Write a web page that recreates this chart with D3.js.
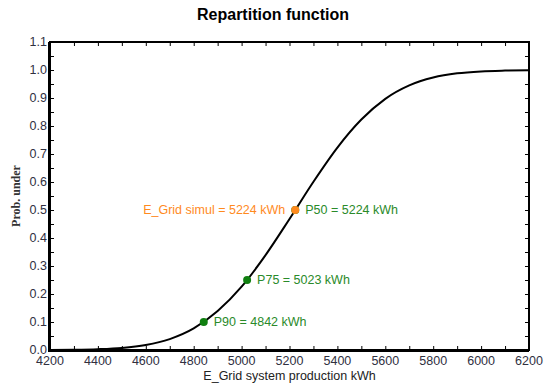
<!DOCTYPE html>
<html>
<head>
<meta charset="utf-8">
<script src="https://cdn.jsdelivr.net/npm/d3@7"></script>
<style>
  body { margin: 0; background: #fff; }
  svg { display: block; font-family: "Liberation Sans", Arial, sans-serif; }
</style>
</head>
<body>
<div id="wrapper"></div>
<script>
// data
const production = [4200, 4300, 4400, 4500, 4600, 4700, 4800, 4900, 5000, 5100, 5200, 5300, 5400, 5500, 5600, 5700, 5800, 5900, 6000, 6100, 6200]
const probUnder  = [0.0003, 0.001, 0.003, 0.0075, 0.018, 0.039, 0.077, 0.139, 0.226, 0.339, 0.468, 0.601, 0.723, 0.823, 0.897, 0.945, 0.973, 0.988, 0.995, 0.998, 0.9995]

const pLabels = ["P90", "P75", "P50"]
const pValues = [4842, 5023, 5224]
const pProbs  = [0.1, 0.25, 0.5]

const simulLabel = "E_Grid simul"
const simulValue = 5224
const simulProb  = 0.5

const xTicks = [4200, 4400, 4600, 4800, 5000, 5200, 5400, 5600, 5800, 6000, 6200]
const yTicks = [0, 0.1, 0.2, 0.3, 0.4, 0.5, 0.6, 0.7, 0.8, 0.9, 1.0, 1.1]

// dimensions
const dimensions = {
  width: 544,
  height: 386,
  margin: { top: 42, right: 15, bottom: 36, left: 50 },
}
dimensions.boundWidth = dimensions.width - dimensions.margin.left - dimensions.margin.right
dimensions.boundHeight = dimensions.height - dimensions.margin.top - dimensions.margin.bottom

const wrapper = d3.select("#wrapper")
  .append("svg")
    .attr("width", dimensions.width)
    .attr("height", dimensions.height)

const bounds = wrapper.append("g")
  .attr("transform", `translate(${dimensions.margin.left}, ${dimensions.margin.top})`)

// scales
const xScale = d3.scaleLinear()
  .domain([4200, 6200])
  .range([0, dimensions.boundWidth])

const yScale = d3.scaleLinear()
  .domain([0, 1.1])
  .range([dimensions.boundHeight, 0])

const labelColor = "#30303f"
const green = "#0f7f0f"
const greenText = "#2a8a2a"
const orange = "#ff8a1e"

// curve
const line = d3.line()
  .x(d => xScale(d[0]))
  .y(d => yScale(d[1]))
  .curve(d3.curveMonotoneX)

bounds.append("path")
  .datum(production.map((p, i) => [p, probUnder[i]]))
  .attr("d", line)
  .attr("fill", "none")
  .attr("stroke", "#000")
  .attr("stroke-width", 2)

// axes: ticks inward, no labels on top/right
const tickStyle = g => {
  g.select(".domain").remove()
  g.selectAll("line").attr("stroke", "#000")
}

bounds.append("g")
  .attr("transform", `translate(0, ${dimensions.boundHeight})`)
  .call(d3.axisBottom(xScale).tickValues(d3.range(4200, 6201, 100)).tickSize(-4).tickFormat(""))
  .call(tickStyle)

bounds.append("g")
  .call(d3.axisTop(xScale).tickValues(d3.range(4200, 6201, 100)).tickSize(-4).tickFormat(""))
  .call(tickStyle)

bounds.append("g")
  .call(d3.axisLeft(yScale).tickValues(d3.range(0, 1.101, 0.05)).tickSize(-4).tickFormat(""))
  .call(tickStyle)

bounds.append("g")
  .attr("transform", `translate(${dimensions.boundWidth}, 0)`)
  .call(d3.axisRight(yScale).tickValues(d3.range(0, 1.101, 0.05)).tickSize(-4).tickFormat(""))
  .call(tickStyle)

// tick labels
bounds.append("g")
  .selectAll("text")
  .data(xTicks)
  .join("text")
    .attr("x", d => xScale(d))
    .attr("y", dimensions.boundHeight + 15)
    .attr("text-anchor", "middle")
    .attr("font-size", 12.5)
    .attr("fill", labelColor)
    .text(d => d)

bounds.append("g")
  .selectAll("text")
  .data(yTicks)
  .join("text")
    .attr("x", -3)
    .attr("y", d => yScale(d) + 4)
    .attr("text-anchor", "end")
    .attr("font-size", 12.5)
    .attr("fill", labelColor)
    .text(d => d3.format(".1f")(d))

// frame
bounds.append("rect")
  .attr("width", dimensions.boundWidth)
  .attr("height", dimensions.boundHeight)
  .attr("fill", "none")
  .attr("stroke", "#000")
  .attr("stroke-width", 2)

bounds.append("line")
  .attr("x1", -1).attr("x2", -1)
  .attr("y1", 0).attr("y2", dimensions.boundHeight + 2)
  .attr("stroke", "#000").attr("stroke-width", 2)

bounds.append("line")
  .attr("x1", -2).attr("x2", dimensions.boundWidth)
  .attr("y1", dimensions.boundHeight + 1).attr("y2", dimensions.boundHeight + 1)
  .attr("stroke", "#000").attr("stroke-width", 2)

// percentile points
bounds.append("g")
  .selectAll("circle")
  .data(pValues)
  .join("circle")
    .attr("cx", d => xScale(d))
    .attr("cy", (d, i) => yScale(pProbs[i]))
    .attr("r", 4)
    .attr("fill", green)

bounds.append("g")
  .selectAll("text")
  .data(pValues)
  .join("text")
    .attr("x", d => xScale(d) + 10)
    .attr("y", (d, i) => yScale(pProbs[i]) + 4)
    .attr("font-size", 12.5)
    .attr("fill", greenText)
    .text((d, i) => `${pLabels[i]} = ${d} kWh`)

// simulated value
bounds.append("circle")
  .attr("cx", xScale(simulValue))
  .attr("cy", yScale(simulProb))
  .attr("r", 4)
  .attr("fill", orange)

bounds.append("text")
  .attr("x", xScale(simulValue) - 10)
  .attr("y", yScale(simulProb) + 4)
  .attr("text-anchor", "end")
  .attr("font-size", 12.5)
  .attr("fill", orange)
  .text(`${simulLabel} = ${simulValue} kWh`)

// titles
wrapper.append("text")
  .attr("x", 273)
  .attr("y", 20)
  .attr("text-anchor", "middle")
  .attr("font-size", 16)
  .attr("font-weight", "bold")
  .attr("fill", "#000")
  .text("Repartition function")

wrapper.append("text")
  .attr("x", dimensions.margin.left + dimensions.boundWidth / 2)
  .attr("y", 380)
  .attr("text-anchor", "middle")
  .attr("font-size", 12.5)
  .attr("fill", "#222")
  .text("E_Grid system production kWh")

wrapper.append("text")
  .attr("transform", `translate(20, ${dimensions.margin.top + dimensions.boundHeight / 2}) rotate(-90)`)
  .attr("text-anchor", "middle")
  .attr("font-size", 12)
  .attr("font-weight", "bold")
  .attr("font-family", "'Liberation Serif', 'Times New Roman', serif")
  .attr("fill", "#333")
  .text("Prob. under")
</script>
</body>
</html>
